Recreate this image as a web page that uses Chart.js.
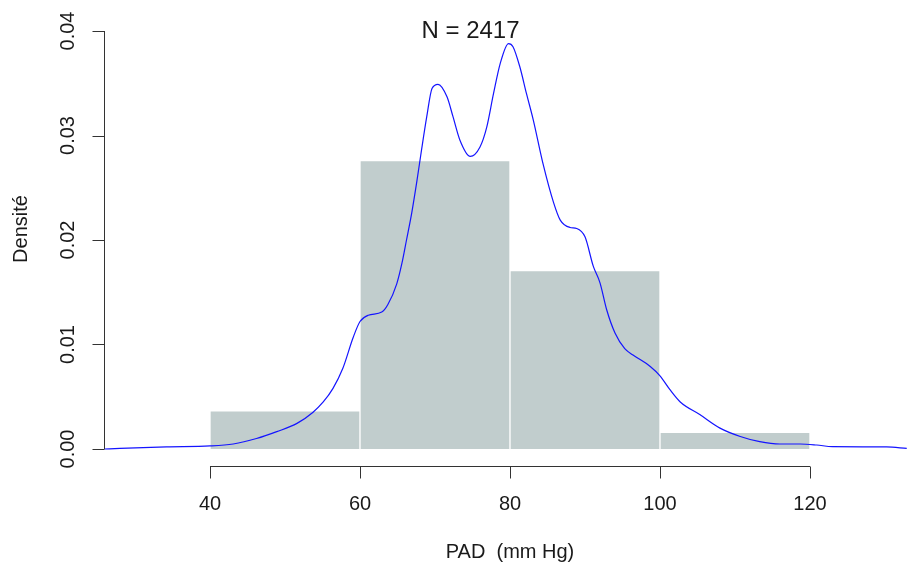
<!DOCTYPE html>
<html>
<head>
<meta charset="utf-8">
<script src="https://cdn.jsdelivr.net/npm/chart.js@4/dist/chart.umd.min.js"></script>
<style>
  html, body { margin: 0; padding: 0; background: #ffffff; }
  #wrap { width: 907px; height: 570px; }
</style>
</head>
<body>
<div id="wrap"><canvas id="c" width="907" height="570"></canvas></div>
<script>
// ---- data ----
const title = "N = 2417";
const xTitle = "PAD  (mm Hg)";
const yTitle = "Densité";
const binEdges = [40, 60, 80, 100, 120];
const binDensity = [0.00366, 0.02760, 0.01707, 0.00160];
const xTicks = [40, 60, 80, 100, 120];
const xTickLabels = ["40", "60", "80", "100", "120"];
const yTicks = [0, 0.01, 0.02, 0.03, 0.04];
const yTickLabels = ["0.00", "0.01", "0.02", "0.03", "0.04"];
const densityX = [25.9, 28, 34.2, 40, 43.1, 46.2, 48.9, 51.6, 53.7, 55.1, 56.4, 57.7, 59.1, 60, 61.1, 62.9, 63.7, 64.9, 65.6, 66.2, 66.9, 67.6, 68.2, 68.9, 69.6, 70.4, 71.6, 72.4, 73.3, 74.7, 76, 76.9, 77.8, 78.7, 79.8, 80.4, 81.3, 82.2, 83.1, 84.4, 85.8, 86.7, 88.0, 88.9, 90, 91.1, 92, 92.9, 94, 95.3, 96.4, 98.7, 100, 101.3, 102.7, 105.3, 108, 110.7, 113.3, 116, 118.7, 120.9, 123, 130.2, 132.9];
const densityY = [0.0000, 0.00006, 0.0002, 0.00029, 0.00048, 0.0010, 0.00166, 0.00245, 0.0035, 0.0045, 0.0058, 0.0077, 0.0107, 0.0122, 0.0128, 0.0131, 0.0138, 0.0158, 0.0178, 0.0200, 0.0226, 0.0257, 0.0286, 0.0318, 0.0345, 0.0349, 0.0337, 0.0318, 0.0296, 0.0280, 0.0289, 0.0308, 0.0340, 0.0369, 0.0388, 0.0385, 0.0366, 0.0340, 0.0315, 0.0273, 0.0236, 0.0219, 0.0212, 0.0211, 0.0203, 0.0175, 0.0159, 0.0133, 0.0111, 0.0096, 0.0090, 0.0079, 0.0070, 0.0057, 0.0045, 0.0033, 0.0020, 0.0012, 0.0007, 0.00048, 0.00048, 0.00038, 0.00022, 0.0002, 0.00006];

// ---- build library structures ----
const barData = binDensity.map((d, i) => ({ x: (binEdges[i] + binEdges[i + 1]) / 2, y: d }));
const lineData = densityX.map((x, i) => ({ x: x, y: densityY[i] }));

const FONT = '"Liberation Sans", Arial, Helvetica, sans-serif';
const AXIS_COLOR = '#333333';
const TEXT_COLOR = '#1a1a1a';

const rAxes = {
  id: 'rAxes',
  afterDraw(chart) {
    const ctx = chart.ctx;
    const xs = chart.scales.x, ys = chart.scales.y;
    const ca = chart.chartArea;
    ctx.save();
    ctx.strokeStyle = AXIS_COLOR;
    ctx.lineWidth = 1;
    // y axis
    const yAxX = Math.round(ca.left) + 0.5;
    ctx.beginPath();
    ctx.moveTo(yAxX, ys.getPixelForValue(yTicks[0]));
    ctx.lineTo(yAxX, ys.getPixelForValue(yTicks[yTicks.length - 1]));
    yTicks.forEach(v => {
      const py = Math.round(ys.getPixelForValue(v)) + 0.5;
      ctx.moveTo(yAxX - 12, py);
      ctx.lineTo(yAxX, py);
    });
    ctx.stroke();
    // x axis
    const xAxY = Math.round(ca.bottom) + 0.5;
    ctx.beginPath();
    ctx.moveTo(xs.getPixelForValue(xTicks[0]), xAxY);
    ctx.lineTo(xs.getPixelForValue(xTicks[xTicks.length - 1]), xAxY);
    xTicks.forEach(v => {
      const px = Math.round(xs.getPixelForValue(v)) + 0.5;
      ctx.moveTo(px, xAxY);
      ctx.lineTo(px, xAxY + 12);
    });
    ctx.stroke();

    // tick labels
    ctx.fillStyle = TEXT_COLOR;
    ctx.font = '20px ' + FONT;
    ctx.textAlign = 'center';
    ctx.textBaseline = 'middle';
    xTicks.forEach((v, i) => {
      ctx.fillText(xTickLabels[i], xs.getPixelForValue(v), 504);
    });
    yTicks.forEach((v, i) => {
      ctx.save();
      ctx.translate(68, ys.getPixelForValue(v));
      ctx.rotate(-Math.PI / 2);
      ctx.fillText(yTickLabels[i], 0, 0);
      ctx.restore();
    });
    // axis titles
    ctx.fillText(xTitle, 510, 552);
    ctx.save();
    ctx.translate(21, 229);
    ctx.rotate(-Math.PI / 2);
    ctx.fillText(yTitle, 0, 0);
    ctx.restore();
    // main title
    ctx.font = '24px ' + FONT;
    ctx.fillText(title, 470.5, 31);
    ctx.restore();
  }
};

new Chart(document.getElementById('c'), {
  data: {
    datasets: [
      {
        type: 'line',
        data: lineData,
        borderColor: 'rgb(20,20,255)',
        borderWidth: 1.2,
        pointRadius: 0,
        cubicInterpolationMode: 'monotone',
        fill: false,
        order: 0
      },
      {
        type: 'bar',
        data: barData,
        backgroundColor: '#C1CDCD',
        borderColor: '#ffffff',
        borderWidth: 1,
        barPercentage: 1,
        categoryPercentage: 1,
        order: 1
      }
    ]
  },
  options: {
    responsive: false,
    devicePixelRatio: 1,
    animation: false,
    layout: { padding: { left: 104, right: 0, top: 14, bottom: 104 } },
    plugins: { legend: { display: false }, tooltip: { enabled: false }, title: { display: false } },
    scales: {
      x: {
        type: 'linear', min: 25.867, max: 132.933, offset: false, display: false,
        afterBuildTicks: s => { s.ticks = xTicks.map(v => ({ value: v })); }
      },
      y: {
        type: 'linear', min: -0.001627, max: 0.041627, display: false,
        afterBuildTicks: s => { s.ticks = yTicks.map(v => ({ value: v })); }
      }
    }
  },
  plugins: [rAxes]
});
</script>
</body>
</html>
